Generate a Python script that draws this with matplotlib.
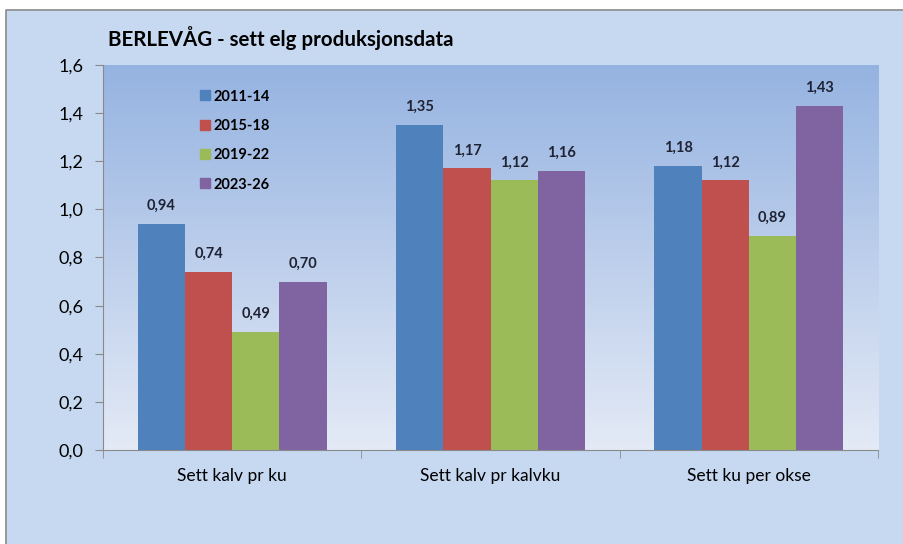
import numpy as np
import matplotlib.pyplot as plt
from matplotlib.lines import Line2D

categories = ['Sett kalv pr ku', 'Sett kalv pr kalvku', 'Sett ku per okse']
periods = ['2011-14', '2015-18', '2019-22', '2023-26']
values = [
    [0.94, 1.35, 1.18],
    [0.74, 1.17, 1.12],
    [0.49, 1.12, 0.89],
    [0.70, 1.16, 1.43],
]
colors = ['#4f81bd', '#c0504d', '#9bbb59', '#8064a2']

plt.rcParams['font.family'] = ['Lato', 'DejaVu Sans']

# 9.031 so the canvas is not truncated to 902 px
fig = plt.figure(figsize=(9.031, 5.441), dpi=100)
fig.patch.set_facecolor('white')

# chart background, grey border only on top/left
x0, y1 = 6 / 903, 1 - 10 / 544
fig.patches.append(plt.Rectangle((x0, 0), 1 - x0, y1, transform=fig.transFigure,
                                 facecolor='#c6d9f1', edgecolor='none', zorder=-5))
fig.lines.append(Line2D([x0, x0, 1], [0, y1, y1], transform=fig.transFigure,
                        color='#8a8a8a', lw=1.2, zorder=-4))

ax = fig.add_axes([103 / 903, 94 / 544, 775 / 903, 385 / 544])
ax.set_facecolor('none')

x = np.arange(len(categories))
w = 0.183
ax.set_xlim(-0.5, len(categories) - 0.5)
ax.set_ylim(0, 1.6)

# plot area gradient
top = np.array([149, 179, 225]) / 255
bot = np.array([228, 234, 246]) / 255
t = np.linspace(0, 1, 256)[:, None]
grad = (top * (1 - t) + bot * t)[:, None, :].repeat(2, axis=1)
ax.imshow(grad, extent=[-0.5, len(categories) - 0.5, 0, 1.6], aspect='auto',
          zorder=0, interpolation='bilinear')

for i, (p, vals) in enumerate(zip(periods, values)):
    pos = x + (i - 1.5) * w
    ax.bar(pos, vals, width=w, color=colors[i], label=p, zorder=2)
    for px, v in zip(pos, vals):
        ax.annotate(f'{v:.2f}'.replace('.', ','), (px, v), xytext=(0, 8),
                    textcoords='offset points', ha='center', va='bottom',
                    fontsize=10.5, fontweight='bold', color='#1f2233')

ax.set_yticks(np.arange(0, 1.61, 0.2))
ax.set_yticklabels([f'{v:.1f}'.replace('.', ',') for v in np.arange(0, 1.61, 0.2)],
                   fontsize=13)
ax.set_xticks(x)
ax.set_xticklabels(categories, fontsize=12.5)
ax.tick_params(axis='x', length=0, pad=13)
ax.set_xticks([-0.5, 0.5, 1.5, 2.5], minor=True)
ax.tick_params(axis='x', which='minor', length=6, color='#8a8a8a')
ax.tick_params(axis='y', length=6, color='#8a8a8a', pad=8)

for s in ['top', 'right']:
    ax.spines[s].set_visible(False)
for s in ['left', 'bottom']:
    ax.spines[s].set_color('#8a8a8a')

fig.text(108 / 903, 1 - 46 / 544, 'BERLEVÅG - sett elg produksjonsdata',
         fontsize=14.8, fontweight='bold', color='black', va='baseline')

handles = [Line2D([], [], marker='s', ls='none', color=c, markersize=6.5) for c in colors]
leg = ax.legend(handles, periods, loc='upper left', bbox_to_anchor=(0.105, 0.97),
                frameon=False, prop={'size': 10.5, 'weight': 'bold'},
                labelspacing=1.05, handletextpad=0.1, handlelength=1.0)

fig.savefig('out.png', dpi=100)
